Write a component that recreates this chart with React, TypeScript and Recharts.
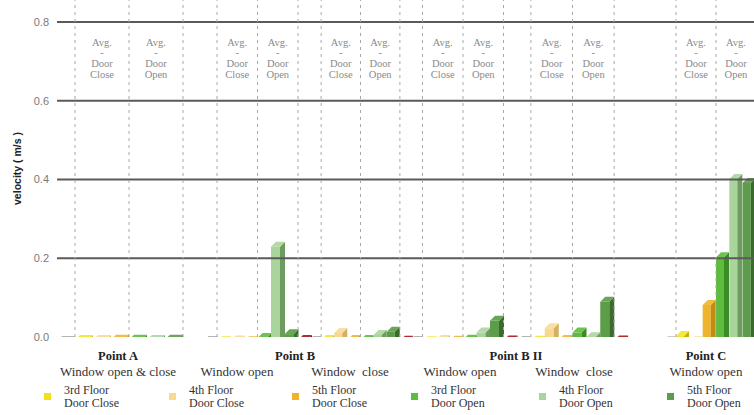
import React from 'react';
import { BarChart, Bar, XAxis, YAxis, Cell, ReferenceLine, ReferenceArea } from 'recharts';

// one slot per bar inside a measurement group
const SLOTS = ['base', '3rd-close', '4th-close', '5th-close', '3rd-open', '4th-open', '5th-open', 'other'];

// velocity (m/s) per slot
const POINT_A_WINDOW = [0.002, 0.005, 0.005, 0.006, 0.006, 0.005, 0.006, 0];
const POINT_B_OPEN = [0.002, 0.002, 0.004, 0.002, 0.01, 0.242, 0.02, 0.005];
const POINT_B_CLOSE = [0.002, 0.005, 0.023, 0.005, 0.005, 0.018, 0.026, 0.003];
const POINT_B2_OPEN = [0.002, 0.002, 0.005, 0.003, 0.006, 0.024, 0.054, 0.004];
const POINT_B2_CLOSE = [0.002, 0.003, 0.035, 0.005, 0.024, 0.012, 0.102, 0.004];
const POINT_C_OPEN = [0.001, 0.015, 0.002, 0.094, 0.215, 0.414, 0.404, 0.004];

const POINT_NAMES = ['Point A', 'Point B', 'Point B II', 'Point C'];
const CONDITIONS = ['Window open & close', 'Window open', 'Window  close', 'Window open', 'Window  close', 'Window open'];
const LEGEND_FLOORS = ['3rd Floor', '4th Floor', '5th Floor', '3rd Floor', '4th Floor', '5th Floor'];
const LEGEND_DOORS = ['Door Close', 'Door Close', 'Door Close', 'Door Open', 'Door Open', 'Door Open'];
const Y_TICKS = [0, 0.2, 0.4, 0.6, 0.8];

const GROUP_KEYS = ['a', 'b', 'bc', 'b2', 'b2c', 'c'];
const GROUP_VALUES = [POINT_A_WINDOW, POINT_B_OPEN, POINT_B_CLOSE, POINT_B2_OPEN, POINT_B2_CLOSE, POINT_C_OPEN];

const rows = SLOTS.map((slot, i) => {
  const row: Record<string, string | number> = { slot };
  GROUP_KEYS.forEach((k, g) => (row[k] = GROUP_VALUES[g][i]));
  return row;
});

// styling / layout
const SLOT_COLORS = ['#c4c4c4', '#f3e01c', '#f8d98e', '#efb42c', '#5dbd3c', '#a9d49b', '#5c9d4a', '#a3191f'];
const SIDE_COLORS = ['#8e8e8e', '#c4b300', '#d6b062', '#c28c12', '#3b8c25', '#6e9c60', '#3b6c2e', '#6a0d11'];
const TOP_COLORS = ['#9a9a9a', '#f5e640', '#f9dea0', '#f1bc45', '#6cc44c', '#b3d9a6', '#68a556', '#b02a30'];

const CHART_W = 800;
const PLOT_LEFT = 57;
// pixel span of each group along the plot (start, end)
const GROUP_SPANS = [
  [57, 201],
  [203.5, 311.5],
  [308, 413],
  [409, 517],
  [517, 628],
  [662.7, 769.3],
];
const POINT_X = [118, 295, 516, 706];
const CONDITION_X = [118, 237, 350, 460, 574, 706];
const LEGEND_X = [44, 169, 292, 411, 539, 667];

const serif = '"Liberation Serif", "Times New Roman", serif';
const sans = '"Liberation Sans", Arial, sans-serif';

function Bar3D(props: any) {
  const { x, y, width, height, index } = props;
  if (!(height > 0)) return null;
  const d = 5;
  const w = width;
  return (
    <g>
      <rect x={x} y={y + d} width={w - d} height={height} fill={SLOT_COLORS[index]} />
      <polygon
        points={`${x + w - d},${y + d} ${x + w},${y} ${x + w},${y + height} ${x + w - d},${y + height + d}`}
        fill={SIDE_COLORS[index]}
      />
      <polygon points={`${x},${y + d} ${x + d},${y} ${x + w},${y} ${x + w - d},${y + d}`} fill={TOP_COLORS[index]} />
    </g>
  );
}

const avgLabel = (kind: string) => (props: any) => {
  const { viewBox } = props;
  const cx = viewBox.x + viewBox.width / 2;
  const lines = ['Avg.', '-', 'Door', kind];
  const ys = [46, 56, 66.5, 77.5];
  return (
    <text
      textAnchor="middle"
      fontFamily={serif}
      fontSize={10.5}
      fill="#8a8a8a"
      style={{ fontFamily: serif, fontSize: 10.5 }}
    >
      {lines.map((t, i) => (
        <tspan key={i} x={cx} y={ys[i]}>
          {t}
        </tspan>
      ))}
    </text>
  );
};

export default function App() {
  return (
    <div
      style={{
        position: 'absolute',
        left: 0,
        top: 0,
        width: 754,
        height: 415,
        overflow: 'hidden',
        background: '#fff',
      }}
    >
      <BarChart
        width={CHART_W}
        height={415}
        data={rows}
        margin={{ top: 0, right: 0, bottom: 78, left: 0 }}
        barCategoryGap={0}
        barGap={0}
      >
        <YAxis
          domain={[0, 0.856]}
          ticks={Y_TICKS}
          allowDataOverflow
          width={PLOT_LEFT}
          axisLine={false}
          tickLine={false}
          tickFormatter={(v) => Number(v).toFixed(1)}
          tick={{ fontSize: 11, fill: '#7a7a7a', fontFamily: sans }}
          label={{
            value: 'velocity ( m/s )',
            angle: -90,
            position: 'center',
            dx: -11,
            style: { fontSize: 10.5, fontWeight: 'bold', fill: '#222', fontFamily: sans },
          }}
        />
        {GROUP_KEYS.map((k, g) => (
          <XAxis
            key={k}
            xAxisId={k}
            dataKey="slot"
            hide
            padding={{ left: GROUP_SPANS[g][0] - PLOT_LEFT, right: CHART_W - GROUP_SPANS[g][1] }}
          />
        ))}
        {Y_TICKS.filter((t) => t > 0).map((t) => (
          <ReferenceLine key={t} xAxisId="a" y={t} stroke="#5a5a5a" strokeWidth={2} />
        ))}
        {GROUP_KEYS.map((k) => (
          <ReferenceArea
            key={'close-' + k}
            xAxisId={k}
            x1={SLOTS[1]}
            x2={SLOTS[3]}
            fill="none"
            fillOpacity={0}
            stroke="none"
            label={avgLabel('Close')}
          />
        ))}
        {GROUP_KEYS.map((k) => (
          <ReferenceArea
            key={'open-' + k}
            xAxisId={k}
            x1={SLOTS[4]}
            x2={SLOTS[6]}
            fill="none"
            fillOpacity={0}
            stroke="none"
            label={avgLabel('Open')}
          />
        ))}
        {GROUP_KEYS.map((k) =>
          [
            [SLOTS[1], 'start'],
            [SLOTS[4], 'start'],
            [SLOTS[6], 'end'],
          ].map(([s, pos]) => (
            <ReferenceLine
              key={k + s + pos}
              xAxisId={k}
              x={s}
              position={pos as any}
              stroke="#a8a8a8"
              strokeDasharray="3 4"
            />
          ))
        )}
        {GROUP_KEYS.map((k) => (
          <Bar key={k} xAxisId={k} dataKey={k} isAnimationActive={false} shape={Bar3D}>
            {SLOTS.map((s, i) => (
              <Cell key={s} fill={SLOT_COLORS[i]} />
            ))}
          </Bar>
        ))}
      </BarChart>

      {POINT_NAMES.map((t, i) => (
        <div
          key={t}
          style={{
            position: 'absolute',
            left: POINT_X[i],
            top: 348,
            transform: 'translateX(-50%)',
            fontFamily: serif,
            fontWeight: 'bold',
            fontSize: 12.5,
            lineHeight: '16px',
            color: '#222',
            whiteSpace: 'pre',
          }}
        >
          {t}
        </div>
      ))}
      {CONDITIONS.map((t, i) => (
        <div
          key={i}
          style={{
            position: 'absolute',
            left: CONDITION_X[i],
            top: 364,
            transform: 'translateX(-50%)',
            fontFamily: serif,
            fontSize: 13,
            lineHeight: '16px',
            color: '#333',
            whiteSpace: 'pre',
          }}
        >
          {t}
        </div>
      ))}
      {LEGEND_FLOORS.map((t, i) => (
        <div key={i} style={{ position: 'absolute', left: LEGEND_X[i], top: 384 }}>
          <div
            style={{
              position: 'absolute',
              left: 0,
              top: 9,
              width: 7,
              height: 7,
              background: SLOT_COLORS[i + 1],
            }}
          />
          <div
            style={{
              position: 'absolute',
              left: 20,
              top: 0,
              fontFamily: serif,
              fontSize: 12,
              lineHeight: '12.5px',
              color: '#333',
              whiteSpace: 'pre',
            }}
          >
            {t}
            {'\n'}
            {LEGEND_DOORS[i]}
          </div>
        </div>
      ))}
    </div>
  );
}
